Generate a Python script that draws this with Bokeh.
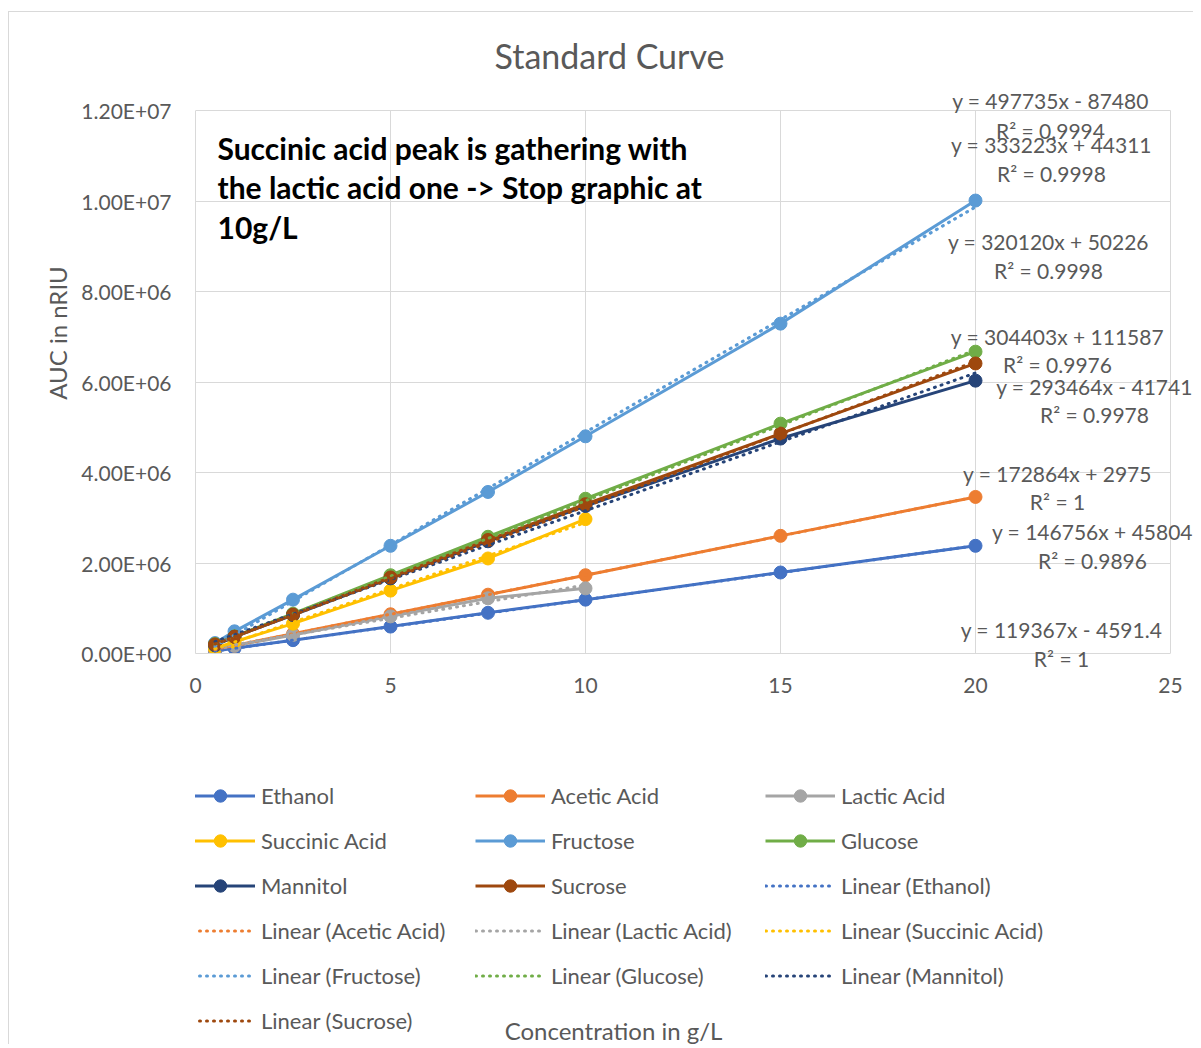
import sys
from bokeh.plotting import figure
from bokeh.layouts import column
from bokeh.models import Label, Legend, LegendItem, FixedTicker, Range1d, Grid
from bokeh.embed import file_html
from bokeh.resources import INLINE

# ---------------- data ----------------
conc = [0.5, 1, 2.5, 5, 7.5, 10, 15, 20]
conc_short = [0.5, 1, 2.5, 5, 7.5, 10]

ethanol = [55000, 115000, 295000, 595000, 900000, 1190000, 1790000, 2380000]
acetic = [89000, 176000, 435000, 867000, 1300000, 1730000, 2600000, 3460000]
lactic = [100000, 170000, 410000, 820000, 1220000, 1440000]
succinic = [110000, 260000, 660000, 1390000, 2100000, 2970000]
fructose = [230000, 490000, 1190000, 2380000, 3570000, 4800000, 7290000, 10010000]
glucose = [210000, 380000, 880000, 1730000, 2580000, 3420000, 5080000, 6670000]
mannitol = [180000, 370000, 850000, 1660000, 2480000, 3260000, 4750000, 6030000]
sucrose = [200000, 370000, 860000, 1680000, 2510000, 3300000, 4860000, 6410000]

names = ["Ethanol", "Acetic Acid", "Lactic Acid", "Succinic Acid",
         "Fructose", "Glucose", "Mannitol", "Sucrose"]
xs = [conc, conc, conc_short, conc_short, conc, conc, conc, conc]
ys = [ethanol, acetic, lactic, succinic, fructose, glucose, mannitol, sucrose]
colors = ["#4472C4", "#ED7D31", "#A5A5A5", "#FFC000",
          "#5B9BD5", "#70AD47", "#264478", "#9E480E"]

# trendline coefficients (slope, intercept) as printed on the chart
slopes = [119367, 172864, 146756, 293464, 497735, 333223, 304403, 320120]
intercepts = [-4591.4, 2975, 45804, -41741, -87480, 44311, 111587, 50226]
r2 = ["1", "1", "0.9896", "0.9978", "0.9994", "0.9998", "0.9976", "0.9998"]

x_ticks = [0, 5, 10, 15, 20, 25]
y_ticks = [0, 2e6, 4e6, 6e6, 8e6, 10e6, 12e6]
y_tick_labels = ["0.00E+00", "2.00E+06", "4.00E+06", "6.00E+06",
                 "8.00E+06", "1.00E+07", "1.20E+07"]

# ---------------- layout (absolute page pixels) ----------------
OFFX, OFFY = 9, 12          # chart border at (8, 11), content starts 1px inside
RIGHT = 1193
SPLIT = 740                 # page y where the legend figure starts
BOTTOM = 1044
PX0, PX_PER_X = 195, 39.0   # x = 0 at 195 px, 39 px per g/L
PY0, PX_PER_Y = 653, 543.0 / 12e6


def dx(px):
    return (px - PX0) / PX_PER_X


def dy(py):
    return (PY0 - py) / PX_PER_Y


# equation label centers (px), order matches names: (x, y_eq, y_r2)
eq_pos = [(1061, 629, 658), (1057, 473, 501), (1092, 531, 560), (1094, 386, 414),
          (1050, 100, 130), (1051, 144, 173), (1057, 336, 364), (1048, 241, 270)]

GREY = "#595959"
FONT = "Lato"

W = RIGHT - OFFX
H_MAIN = SPLIT - OFFY
H_LEG = BOTTOM - SPLIT

p = figure(width=W, height=H_MAIN, output_backend="svg", toolbar_location=None,
           x_range=Range1d(0, dx(RIGHT)), y_range=Range1d(0, dy(OFFY)),
           min_border_left=PX0 - OFFX, min_border_right=0,
           min_border_top=0, min_border_bottom=SPLIT - PY0)
p.title.visible = False
p.outline_line_color = None
p.background_fill_color = "white"
p.border_fill_color = "white"

for ax in (p.xaxis[0], p.yaxis[0]):
    ax.axis_line_color = "#d9d9d9"
    ax.major_tick_line_color = None
    ax.minor_tick_line_color = None
    ax.major_label_text_font = FONT
    ax.major_label_text_font_size = "21px"
    ax.major_label_text_color = GREY

p.xaxis.bounds = (0, 25)
p.xaxis.ticker = FixedTicker(ticks=x_ticks)
p.xaxis.major_label_overrides = {t: str(t) for t in x_ticks}
p.xaxis.major_label_standoff = 18
p.yaxis.bounds = (0, 12e6)
p.yaxis.ticker = FixedTicker(ticks=y_ticks)
p.yaxis.major_label_overrides = {t: l for t, l in zip(y_ticks, y_tick_labels)}
p.yaxis.major_label_standoff = 18
p.yaxis.axis_label = "AUC in nRIU"
p.yaxis.axis_label_text_font = FONT
p.yaxis.axis_label_text_font_size = "24px"
p.yaxis.axis_label_text_font_style = "normal"
p.yaxis.axis_label_text_color = GREY
p.yaxis.axis_label_standoff = 6

p.xgrid.ticker = FixedTicker(ticks=x_ticks)
p.ygrid.ticker = FixedTicker(ticks=y_ticks)
p.xgrid.bounds = (0, 25)
p.ygrid.bounds = (0, 12e6)
if "cross_bounds" in Grid.properties():
    p.xgrid.cross_bounds = (0, 12e6)
    p.ygrid.cross_bounds = (0, 25)
else:
    print("no cross_bounds", file=sys.stderr)
p.grid.grid_line_color = "#d9d9d9"
p.grid.grid_line_width = 1

for name, x, y, c in zip(names, xs, ys, colors):
    p.line(x, y, line_color=c, line_width=3)
    p.scatter(x, y, marker="circle", size=13, fill_color=c, line_color=c)

for name, x, m, b, c in zip(names, xs, slopes, intercepts, colors):
    tx = [min(x), max(x)]
    ty = [m * v + b for v in tx]
    p.line(tx, ty, line_color=c, line_width=3, line_dash="1 6", line_cap="round")

# equation labels
for m, b, r, (lx, ly1, ly2) in zip(slopes, intercepts, r2, eq_pos):
    sign = "-" if b < 0 else "+"
    eq = "y = %dx %s %g" % (m, sign, abs(b))
    p.add_layout(Label(x=dx(lx), y=dy(ly1), text=eq, text_align="center",
                       text_baseline="middle", text_font=FONT, text_font_size="21px",
                       text_color=GREY))
    r2_label = Label(x=dx(lx), y=dy(ly2), text="R² = " + r, text_align="center",
                     text_baseline="middle", text_font=FONT, text_font_size="21px",
                     text_color=GREY)
    # a label lying across the bottom frame edge goes in the side panel (not clipped)
    p.add_layout(r2_label, "below" if ly2 > PY0 - 6 else "center")

# note
note_lines = ["Succinic acid peak is gathering with",
              "the lactic acid one -> Stop graphic at",
              "10g/L"]
note_py = [147, 186, 226]
for t, py in zip(note_lines, note_py):
    p.add_layout(Label(x=dx(217), y=dy(py), text=t, text_align="left",
                       text_baseline="middle", text_font=FONT, text_font_size="30px",
                       text_font_style="bold", text_color="black"))

# chart title
p.add_layout(Label(x=dx(609), y=dy(55), text="Standard Curve", text_align="center",
                   text_baseline="middle", text_font=FONT, text_font_size="34px",
                   text_color=GREY))

# ---------------- legend figure below ----------------
# its frame gets aligned with the main frame (left edge at 195 px)
p2 = figure(width=W, height=H_LEG, output_backend="svg", toolbar_location=None,
            x_range=Range1d(PX0, RIGHT), y_range=Range1d(BOTTOM, SPLIT),
            x_axis_location=None, y_axis_location=None,
            min_border_left=PX0 - OFFX, min_border_right=0,
            min_border_top=0, min_border_bottom=0)
p2.title.visible = False
p2.grid.visible = False
p2.outline_line_color = None
p2.background_fill_color = "white"
p2.border_fill_color = "white"

series_items = []
trend_items = []
for name, x, y, c in zip(names, xs, ys, colors):
    lr = p2.line(x, y, line_color=c, line_width=3, visible=False)
    sr = p2.scatter(x, y, marker="circle", size=13, fill_color=c, line_color=c,
                    visible=False)
    series_items.append(LegendItem(label=name, renderers=[lr, sr]))
for name, x, m, b, c in zip(names, xs, slopes, intercepts, colors):
    tx = [min(x), max(x)]
    ty = [m * v + b for v in tx]
    tr = p2.line(tx, ty, line_color=c, line_width=3, line_dash="1 6", line_cap="round",
                 visible=False)
    trend_items.append(LegendItem(label="Linear (%s)" % name, renderers=[tr]))

n_rows = 6
leg_h = n_rows * 31 + (n_rows - 1) * 14
leg_top_local = 779.5 - SPLIT
leg = Legend(items=series_items + trend_items, orientation="horizontal", ncols=3,
             location=(185 - PX0, H_LEG - leg_top_local - leg_h),
             border_line_color=None, background_fill_alpha=0, padding=0, margin=0,
             glyph_width=70, glyph_height=31, label_height=31, label_width=200,
             label_standoff=6, spacing=14, label_text_font=FONT,
             label_text_font_size="22px", label_text_color=GREY,
             inactive_fill_alpha=0)
p2.add_layout(leg, "center")

p2.add_layout(Label(x=613, y=1030, text="Concentration in g/L", text_align="center",
                    text_baseline="middle", text_font=FONT, text_font_size="24px",
                    text_color=GREY))

layout = column(p, p2, spacing=0, margin=(OFFY - 1, 0, 0, OFFX - 1),
                styles={"border-left": "1px solid #d9d9d9",
                        "border-top": "1px solid #d9d9d9"})
open("out.html", "w").write(file_html(layout, INLINE))
